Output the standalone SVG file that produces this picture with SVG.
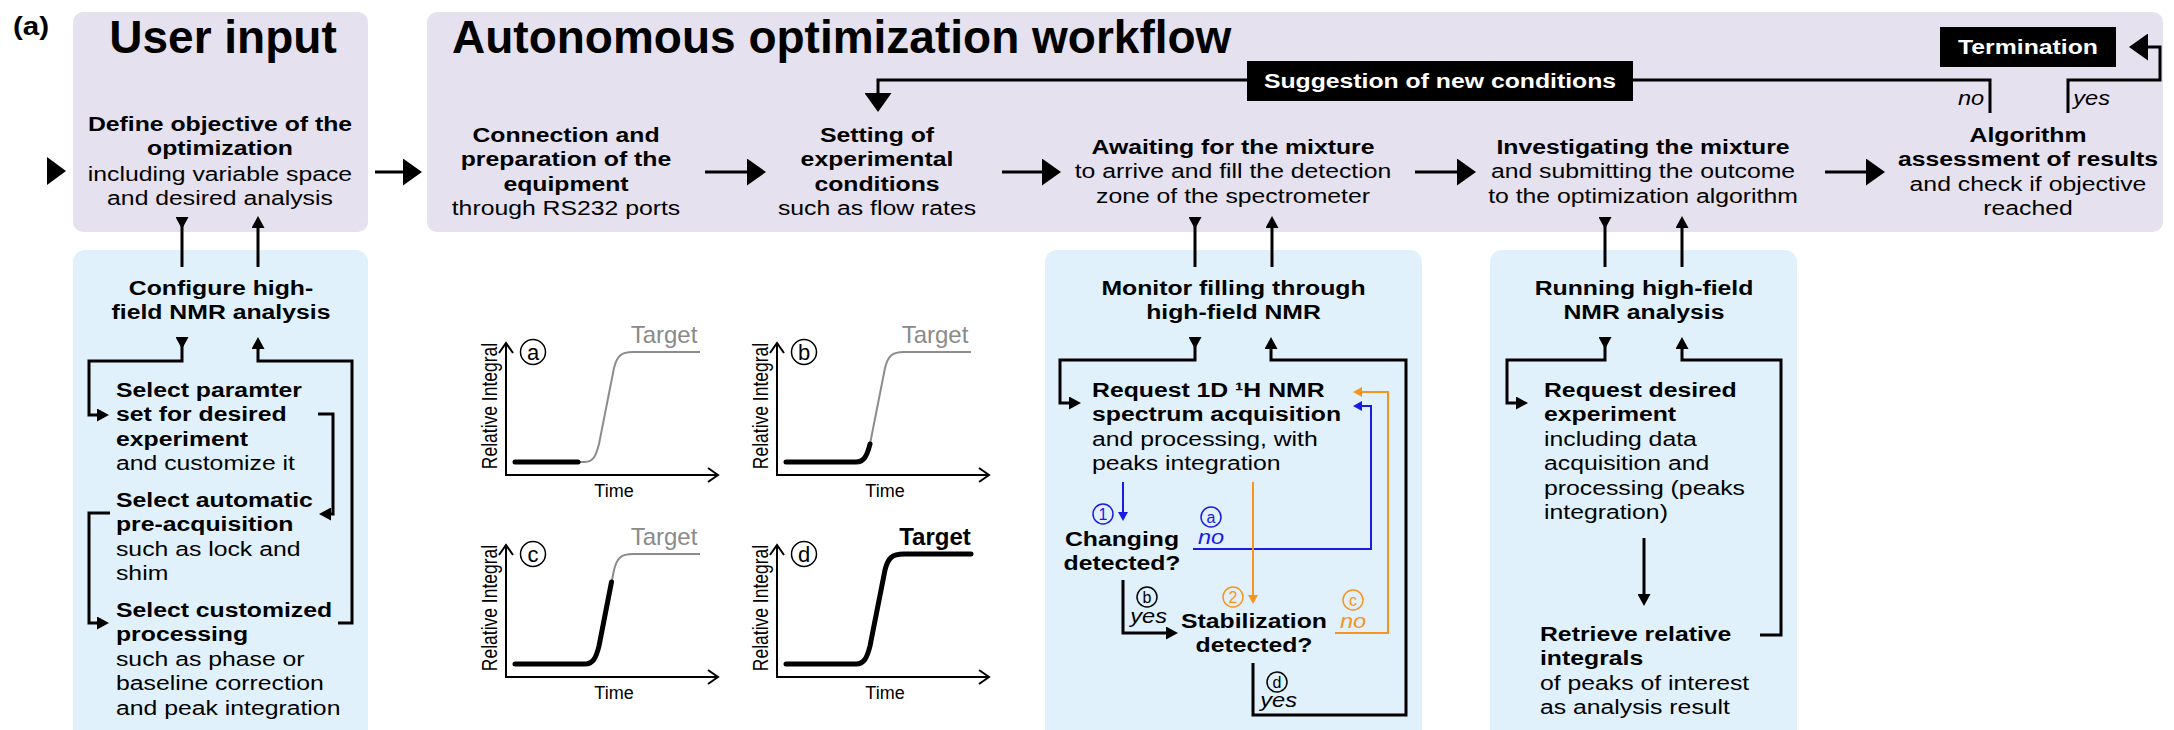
<svg xmlns="http://www.w3.org/2000/svg" width="2174" height="730" viewBox="0 0 2174 730">
<style>
text{font-family:"Liberation Sans",Arial,Helvetica,sans-serif;fill:#000}
.f{font-size:21px}
.b{font-weight:bold}
.i{font-style:italic;font-size:20px}
.sc{transform-box:fill-box;transform-origin:center;transform:scaleX(1.18)}
.sl{transform-box:fill-box;transform-origin:left center;transform:scaleX(1.18)}
.ttl{font-size:46px;font-weight:bold}
.lav{fill:#e6e1ee}
.blu{fill:#e0f1fc}
.k{fill:none;stroke:#000;stroke-width:3}
.kb{fill:none;stroke:#000;stroke-width:3;marker-end:url(#big)}
.ks{fill:none;stroke:#000;stroke-width:3;marker-end:url(#sm)}
.kst{fill:none;stroke:#000;stroke-width:3;marker-start:url(#st)}
.kss{fill:none;stroke:#000;stroke-width:3;marker-start:url(#st);marker-end:url(#sm)}
.bl{fill:none;stroke:#1a1ae6;stroke-width:2}
.or{fill:none;stroke:#f7941d;stroke-width:2}
.blm{marker-end:url(#smb)}
.orm{marker-end:url(#smo)}
.wt{fill:#fff;font-weight:bold;font-size:21px}
.ax{fill:none;stroke:#000;stroke-width:2}
.gc{fill:none;stroke:#8c8c8c;stroke-width:2}
.bc{fill:none;stroke:#000;stroke-width:5;stroke-linecap:round;stroke-linejoin:round}
.cl{font-size:18px}
.rl{font-size:17.5px;text-anchor:middle}
.tg{font-size:24px;fill:#8a8a8a}
.cc{fill:none;stroke:#000;stroke-width:1.5}
.cn{font-size:22px;text-anchor:middle}
.sn{font-size:16px;text-anchor:middle}
</style>
<defs>
<marker id="big" markerUnits="userSpaceOnUse" markerWidth="19" markerHeight="27" refX="13" refY="13.5" orient="auto"><path d="M0,0 L19,13.5 L0,27 Z" fill="#000"/></marker>
<marker id="sm" markerUnits="userSpaceOnUse" markerWidth="12" markerHeight="13" refX="7" refY="6.5" orient="auto"><path d="M0,0 L12,6.5 L0,13 Z" fill="#000"/></marker>
<marker id="st" markerUnits="userSpaceOnUse" markerWidth="12" markerHeight="13" refX="0" refY="6.5" orient="auto"><path d="M0,0 L12,6.5 L0,13 Z" fill="#000"/></marker>
<marker id="smb" markerUnits="userSpaceOnUse" markerWidth="9" markerHeight="10" refX="6" refY="5" orient="auto"><path d="M0,0 L9,5 L0,10 Z" fill="#1a1ae6"/></marker>
<marker id="smo" markerUnits="userSpaceOnUse" markerWidth="9" markerHeight="10" refX="6" refY="5" orient="auto"><path d="M0,0 L9,5 L0,10 Z" fill="#f7941d"/></marker>
</defs>

<rect width="2174" height="730" fill="#fff"/>
<text class="b sl" x="13" y="35" style="font-size:25px">(a)</text>
<polygon points="47,157 47,185 66,171" fill="#000"/>

<g id="user-input">
<rect class="lav" x="73" y="12" width="295" height="220" rx="10"/>
<text class="ttl" x="223" y="53" text-anchor="middle">User input</text>
<text class="f sc" text-anchor="middle"><tspan class="b" x="220" y="131">Define objective of the</tspan><tspan class="b" x="220" y="155.5">optimization</tspan><tspan x="220" y="181">including variable space</tspan><tspan x="220" y="205.5">and desired analysis</tspan></text>
</g>

<g id="workflow">
<rect class="lav" x="427" y="12" width="1736" height="220" rx="10"/>
<text class="ttl" x="452" y="53">Autonomous optimization workflow</text>
</g>

<g id="connection">
<text class="f sc" text-anchor="middle"><tspan class="b" x="566" y="142">Connection and</tspan><tspan class="b" x="566" y="166.5">preparation of the</tspan><tspan class="b" x="566" y="191">equipment</tspan><tspan x="566" y="215.5">through RS232 ports</tspan></text>
</g>
<g id="setting">
<text class="f sc" text-anchor="middle"><tspan class="b" x="877" y="142">Setting of</tspan><tspan class="b" x="877" y="166.5">experimental</tspan><tspan class="b" x="877" y="191">conditions</tspan><tspan x="877" y="215.5">such as flow rates</tspan></text>
</g>
<g id="awaiting">
<text class="f sc" text-anchor="middle"><tspan class="b" x="1233" y="154">Awaiting for the mixture</tspan><tspan x="1233" y="178.5">to arrive and fill the detection</tspan><tspan x="1233" y="203">zone of the spectrometer</tspan></text>
</g>
<g id="investigating">
<text class="f sc" text-anchor="middle"><tspan class="b" x="1643" y="154">Investigating the mixture</tspan><tspan x="1643" y="178.5">and submitting the outcome</tspan><tspan x="1643" y="203">to the optimization algorithm</tspan></text>
</g>
<g id="algorithm">
<text class="f sc" text-anchor="middle"><tspan class="b" x="2028" y="142">Algorithm</tspan><tspan class="b" x="2028" y="166.5">assessment of results</tspan><tspan x="2028" y="191">and check if objective</tspan><tspan x="2028" y="215.5">reached</tspan></text>
</g>
<g id="suggestion">
<rect x="1247" y="61" width="386" height="40" fill="#000"/>
<text class="wt sc" x="1440" y="88.5" text-anchor="middle">Suggestion of new conditions</text>
</g>
<g id="termination">
<rect x="1940" y="27" width="176" height="40" fill="#000"/>
<text class="wt sc" x="2028" y="54.5" text-anchor="middle">Termination</text>
</g>

<g id="configure">
<rect class="blu" x="73" y="250" width="295" height="495" rx="12"/>
<text class="f b sc" text-anchor="middle"><tspan x="221" y="295">Configure high-</tspan><tspan x="221" y="319">field NMR analysis</tspan></text>
<text class="f sl"><tspan class="b" x="116" y="397">Select paramter</tspan><tspan class="b" x="116" y="421.5">set for desired</tspan><tspan class="b" x="116" y="446">experiment</tspan><tspan x="116" y="470.5">and customize it</tspan><tspan class="b" x="116" y="507">Select automatic</tspan><tspan class="b" x="116" y="531.5">pre-acquisition</tspan><tspan x="116" y="556">such as lock and</tspan><tspan x="116" y="580.5">shim</tspan><tspan class="b" x="116" y="617">Select customized</tspan><tspan class="b" x="116" y="641.5">processing</tspan><tspan x="116" y="666">such as phase or</tspan><tspan x="116" y="690.5">baseline correction</tspan><tspan x="116" y="715">and peak integration</tspan></text>
</g>

<g id="monitor">
<rect class="blu" x="1045" y="250" width="377" height="495" rx="12"/>
<text class="f b sc" text-anchor="middle"><tspan x="1233.5" y="295">Monitor filling through</tspan><tspan x="1233.5" y="319">high-field NMR</tspan></text>
<text class="f sl"><tspan class="b" x="1092" y="397">Request 1D ¹H NMR</tspan><tspan class="b" x="1092" y="421.5">spectrum acquisition</tspan><tspan x="1092" y="446">and processing, with</tspan><tspan x="1092" y="470.5">peaks integration</tspan></text>
<text class="f b sc" text-anchor="middle"><tspan x="1122" y="546">Changing</tspan><tspan x="1122" y="570">detected?</tspan></text>
<text class="f b sc" text-anchor="middle"><tspan x="1254" y="628">Stabilization</tspan><tspan x="1254" y="652.5">detected?</tspan></text>
</g>

<g id="running">
<rect class="blu" x="1490" y="250" width="307" height="495" rx="12"/>
<text class="f b sc" text-anchor="middle"><tspan x="1644" y="295">Running high-field</tspan><tspan x="1644" y="319">NMR analysis</tspan></text>
<text class="f sl"><tspan class="b" x="1544" y="397">Request desired</tspan><tspan class="b" x="1544" y="421.5">experiment</tspan><tspan x="1544" y="446">including data</tspan><tspan x="1544" y="470.5">acquisition and</tspan><tspan x="1544" y="495">processing (peaks</tspan><tspan x="1544" y="519.5">integration)</tspan></text>
<text class="f sl"><tspan class="b" x="1540" y="641">Retrieve relative</tspan><tspan class="b" x="1540" y="665.5">integrals</tspan><tspan x="1540" y="690">of peaks of interest</tspan><tspan x="1540" y="714.5">as analysis result</tspan></text>
</g>

<g id="connectors">
<path class="kb" d="M375,172 H416"/>
<path class="kb" d="M705,172 H760"/>
<path class="kb" d="M1002,172 H1055"/>
<path class="kb" d="M1415,172 H1470"/>
<path class="kb" d="M1825,172 H1879"/>
<path class="kb" d="M1247,80 H878 V106"/>
<path class="k" d="M1990,113 V80 H1633"/>
<path class="kb" d="M2068,113 V80 H2160 V47 H2135"/>
<text class="i sl" x="1958" y="105">no</text>
<text class="i sl" x="2073" y="105">yes</text>

<path class="kst" d="M182,217 V267"/>
<path class="ks" d="M258,267 V221"/>
<path class="kst" d="M1195,217 V267"/>
<path class="ks" d="M1272,267 V221"/>
<path class="kst" d="M1605,217 V267"/>
<path class="ks" d="M1682,267 V221"/>

<path class="kss" d="M182,337 V361 H89 V415 H104"/>
<path class="ks" d="M318,414 H333 V514 H324"/>
<path class="ks" d="M110,513 H89 V623 H104"/>
<path class="ks" d="M338,623 H352 V361 H258 V342"/>

<path class="kss" d="M1195,337 V360 H1060 V403 H1076"/>
<path class="ks" d="M1253,663 V715 H1406 V360 H1271 V342"/>
<path class="ks" d="M1123,580 V633 H1173"/>
<path class="bl blm" d="M1123,482 V518"/>
<path class="bl blm" d="M1193,549 H1371 V406 H1356"/>
<path class="or orm" d="M1253,482 V601"/>
<path class="or orm" d="M1335,633 H1388 V392 H1356"/>
<circle cx="1103" cy="514" r="10" fill="none" stroke="#1a1ae6" stroke-width="1.5"/>
<text class="sn" x="1103" y="520" style="fill:#1a1ae6">1</text>
<circle cx="1211" cy="517" r="10" fill="none" stroke="#1a1ae6" stroke-width="1.5"/>
<text class="sn" x="1211" y="522.5" style="fill:#1a1ae6">a</text>
<text class="i sl" x="1198" y="544" style="fill:#1a1ae6">no</text>
<circle cx="1147" cy="597" r="10" class="cc"/>
<text class="sn" x="1147" y="603">b</text>
<text class="i sl" x="1130" y="623">yes</text>
<circle cx="1233" cy="597" r="10" fill="none" stroke="#f7941d" stroke-width="1.5"/>
<text class="sn" x="1233" y="603" style="fill:#f7941d">2</text>
<circle cx="1353" cy="600" r="10" fill="none" stroke="#f7941d" stroke-width="1.5"/>
<text class="sn" x="1353" y="605.5" style="fill:#f7941d">c</text>
<text class="i sl" x="1340" y="628" style="fill:#f7941d">no</text>
<circle cx="1277" cy="682" r="10" class="cc"/>
<text class="sn" x="1277" y="688">d</text>
<text class="i sl" x="1260" y="707">yes</text>

<path class="kss" d="M1605,337 V360 H1507 V403 H1523"/>
<path class="ks" d="M1760,635 H1781 V360 H1682 V342"/>
<path class="ks" d="M1644,538 V601"/>
</g>

<g id="chart-a">
<path class="ax" d="M506,343 V475 H718"/>
<path class="ax" d="M499,353 L506,343 L513,353"/>
<path class="ax" d="M708,468 L718,475 L708,482"/>
<text class="rl" transform="translate(497,406) rotate(-90) scale(1,1.25)">Relative Integral</text>
<text class="cl" x="614" y="497" text-anchor="middle">Time</text>
<circle class="cc" cx="533" cy="352" r="12.5"/>
<text class="cn" x="533" y="359.5">a</text>
<text class="tg" x="664" y="343" text-anchor="middle">Target</text>
<path class="gc" d="M515,462 H585 C593,462 596,456 599,444 L614,368 C617,356 621,352 633,352 H700"/>
<path class="bc" d="M515,462 H578"/>
</g>
<g id="chart-b">
<path class="ax" d="M777,343 V475 H989"/>
<path class="ax" d="M770,353 L777,343 L784,353"/>
<path class="ax" d="M979,468 L989,475 L979,482"/>
<text class="rl" transform="translate(768,406) rotate(-90) scale(1,1.25)">Relative Integral</text>
<text class="cl" x="885" y="497" text-anchor="middle">Time</text>
<circle class="cc" cx="804" cy="352" r="12.5"/>
<text class="cn" x="804" y="359.5">b</text>
<text class="tg" x="935" y="343" text-anchor="middle">Target</text>
<path class="gc" d="M786,462 H856 C864,462 867,456 870,444 L885,368 C888,356 892,352 904,352 H971"/>
<path class="bc" d="M786,462 H856 C864,462 867,456 870,444"/>
</g>
<g id="chart-c">
<path class="ax" d="M506,545 V677 H718"/>
<path class="ax" d="M499,555 L506,545 L513,555"/>
<path class="ax" d="M708,670 L718,677 L708,684"/>
<text class="rl" transform="translate(497,608) rotate(-90) scale(1,1.25)">Relative Integral</text>
<text class="cl" x="614" y="699" text-anchor="middle">Time</text>
<circle class="cc" cx="533" cy="554" r="12.5"/>
<text class="cn" x="533" y="561.5">c</text>
<text class="tg" x="664" y="545" text-anchor="middle">Target</text>
<path class="gc" d="M515,664 H585 C593,664 596,658 599,646 L614,570 C617,558 621,554 633,554 H700"/>
<path class="bc" d="M515,664 H585 C593,664 596,658 599,646 L611.5,582"/>
</g>
<g id="chart-d">
<path class="ax" d="M777,545 V677 H989"/>
<path class="ax" d="M770,555 L777,545 L784,555"/>
<path class="ax" d="M979,670 L989,677 L979,684"/>
<text class="rl" transform="translate(768,608) rotate(-90) scale(1,1.25)">Relative Integral</text>
<text class="cl" x="885" y="699" text-anchor="middle">Time</text>
<circle class="cc" cx="804" cy="554" r="12.5"/>
<text class="cn" x="804" y="561.5">d</text>
<text x="935" y="545" text-anchor="middle" style="font-size:24px;font-weight:bold">Target</text>
<path class="bc" d="M786,664 H856 C864,664 867,658 870,646 L885,570 C888,558 892,554 904,554 H971"/>
</g>
</svg>
